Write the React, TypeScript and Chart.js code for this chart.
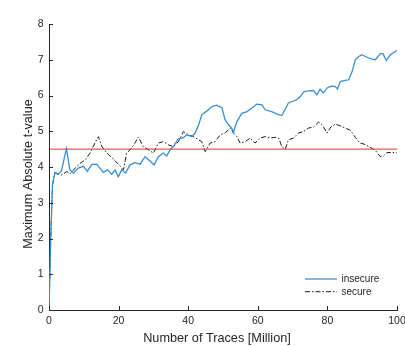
import React, { useEffect, useRef } from "react";
import { Chart, registerables } from "chart.js";

Chart.register(...registerables);

// Maximum absolute t-value against number of traces (millions)
const insecureX = [
  0, 0.5, 1.0, 1.7, 2.7, 3.6, 5.0, 6.0, 7.0, 8.4, 9.9, 11.0, 12.3, 13.7, 15.6, 16.8, 18.0, 19.0, 19.9, 20.9,
  22.0, 23.3, 24.7, 26.2, 27.6, 28.6, 30.2, 31.4, 32.9, 33.8, 34.8, 35.7, 37.2, 38.6, 39.6, 41.0, 42.0, 43.0,
  43.9, 45.4, 46.8, 48.2, 49.7, 50.6, 51.6, 52.5, 53.0, 54.0, 55.4, 56.9, 58.3, 59.7, 61.2, 62.1, 64.0, 65.5,
  66.9, 68.8, 71.2, 72.2, 73.3, 74.6, 76.0, 77.0, 77.9, 78.9, 79.9, 81.3, 82.3, 82.9, 83.7, 85.1, 86.1, 87.1,
  88.0, 89.0, 89.9, 91.4, 92.8, 93.8, 95.2, 96.0, 96.9, 98.1, 100,
];
const insecureY = [
  0, 2.0, 3.5, 3.85, 3.8, 3.9, 4.52, 3.92, 3.83, 3.97, 4.02, 3.88, 4.07, 4.08, 3.85, 3.92, 3.8, 3.92, 3.73, 3.92,
  3.83, 4.06, 4.12, 4.08, 4.29, 4.2, 4.06, 4.29, 4.39, 4.31, 4.48, 4.57, 4.79, 4.82, 4.9, 4.85, 4.95, 5.18,
  5.46, 5.57, 5.69, 5.73, 5.65, 5.32, 5.18, 5.09, 4.97, 5.27, 5.5, 5.55, 5.65, 5.76, 5.74, 5.6, 5.55, 5.48,
  5.44, 5.79, 5.88, 5.97, 6.11, 6.13, 6.14, 6.02, 6.18, 6.07, 6.21, 6.27, 6.25, 6.18, 6.39, 6.42, 6.44, 6.67,
  7.0, 7.09, 7.14, 7.07, 7.02, 7.0, 7.17, 7.17, 6.98, 7.14, 7.26,
];

const secureX = [
  0, 0.5, 1.0, 1.7, 2.5, 3.6, 5.1, 6.2, 7.5, 8.9, 10.4, 11.8, 13.2, 14.2, 15.2, 16.6, 18.5, 19.9, 20.9, 21.4,
  22.3, 23.3, 24.7, 25.7, 27.1, 28.6, 30.0, 31.4, 32.9, 34.3, 35.7, 37.2, 38.6, 40.1, 41.5, 43.0, 43.9, 44.9,
  46.3, 47.7, 49.2, 50.6, 52.1, 53.0, 54.0, 54.9, 56.4, 57.8, 59.2, 60.7, 62.1, 63.6, 65.0, 66.0, 66.9, 67.9,
  68.8, 70.3, 71.7, 73.1, 74.6, 76.0, 77.5, 78.5, 79.9, 81.0, 82.3, 83.7, 85.1, 86.6, 88.0, 89.4, 90.9, 92.3,
  93.8, 95.2, 96.1, 97.1, 98.6, 100,
];
const secureY = [
  0, 2.0, 3.5, 3.83, 3.8, 3.78, 3.87, 3.82, 3.97, 4.1, 4.2, 4.39, 4.67, 4.85, 4.57, 4.39, 4.22, 4.08, 3.97, 3.92,
  4.39, 4.48, 4.67, 4.84, 4.57, 4.48, 4.39, 4.67, 4.71, 4.62, 4.57, 4.71, 4.99, 4.9, 4.85, 4.76, 4.71, 4.43,
  4.67, 4.71, 4.9, 4.95, 5.09, 4.95, 4.85, 4.67, 4.71, 4.81, 4.67, 4.81, 4.85, 4.81, 4.83, 4.81, 4.57, 4.5,
  4.76, 4.81, 4.95, 4.99, 5.09, 5.12, 5.26, 5.18, 4.95, 5.12, 5.2, 5.15, 5.09, 5.03, 4.83, 4.67, 4.63, 4.55,
  4.46, 4.29, 4.31, 4.4, 4.41, 4.39,
];

// Detection threshold
const thresholdX = [0, 100];
const thresholdY = [4.5, 4.5];

const xTicks = [0, 20, 40, 60, 80, 100];
const yTicks = [0, 1, 2, 3, 4, 5, 6, 7, 8];

const xTitle = "Number of Traces [Million]";
const yTitle = "Maximum Absolute t-value";
const seriesNames = ["insecure", "secure"];

const FONT = "'Liberation Sans', Arial, Helvetica, sans-serif";
const INK = "#262626";
const BLUE = "#3a8fd3";
const BLACK = "#1c1c1c";
const RED = "#e8322c";
const DASH = [5, 2, 1.5, 2];

const toPoints = (xs: number[], ys: number[]) => xs.map((x, i) => ({ x, y: ys[i] }));

// Short tick marks pointing into the plot area, plus axis titles
const axisDecor = {
  id: "axisDecor",
  afterDraw(chart: any) {
    const { ctx, chartArea, scales } = chart;
    const xs = scales.x;
    const ys = scales.y;
    ctx.save();
    ctx.strokeStyle = INK;
    ctx.lineWidth = 1;
    ctx.beginPath();
    for (const v of xTicks) {
      const px = Math.round(xs.getPixelForValue(v)) + 0.5;
      ctx.moveTo(px, chartArea.bottom);
      ctx.lineTo(px, chartArea.bottom - 4);
    }
    for (const v of yTicks) {
      const py = Math.round(ys.getPixelForValue(v)) + 0.5;
      ctx.moveTo(chartArea.left, py);
      ctx.lineTo(chartArea.left + 4, py);
    }
    ctx.stroke();

    ctx.fillStyle = INK;
    ctx.font = `12.7px ${FONT}`;
    ctx.textAlign = "center";
    ctx.textBaseline = "alphabetic";
    ctx.fillText(xTitle, (chartArea.left + chartArea.right) / 2 - 6, chartArea.bottom + 31.5);

    ctx.translate(31.7, (chartArea.top + chartArea.bottom) / 2 + 7);
    ctx.rotate(-Math.PI / 2);
    ctx.fillText(yTitle, 0, 0);
    ctx.restore();
  },
};

// Legend in the lower-right corner of the plot area
const cornerLegend = {
  id: "cornerLegend",
  afterDraw(chart: any) {
    const { ctx, chartArea } = chart;
    const x0 = chartArea.right - 92;
    const x1 = chartArea.right - 60;
    const styles = [
      { color: BLUE, width: 1.3, dash: [] as number[] },
      { color: BLACK, width: 1, dash: DASH },
    ];
    ctx.save();
    ctx.font = `10px ${FONT}`;
    ctx.textAlign = "left";
    ctx.textBaseline = "middle";
    seriesNames.forEach((name, i) => {
      const y = chartArea.bottom - 31 + i * 12.7;
      const s = styles[i];
      ctx.strokeStyle = s.color;
      ctx.lineWidth = s.width;
      ctx.setLineDash(s.dash);
      ctx.beginPath();
      ctx.moveTo(x0, y);
      ctx.lineTo(x1, y);
      ctx.stroke();
      ctx.setLineDash([]);
      ctx.fillStyle = INK;
      ctx.fillText(name, x1 + 4.5, y + 0.5);
    });
    ctx.restore();
  },
};

export default function App() {
  const canvasRef = useRef<HTMLCanvasElement | null>(null);

  useEffect(() => {
    if (!canvasRef.current) return;
    const chart = new Chart(canvasRef.current, {
      type: "line",
      data: {
        datasets: [
          {
            label: "threshold",
            data: toPoints(thresholdX, thresholdY),
            borderColor: RED,
            borderWidth: 1,
            pointRadius: 0,
            order: 0,
          },
          {
            label: seriesNames[0],
            data: toPoints(insecureX, insecureY),
            borderColor: BLUE,
            borderWidth: 1.3,
            pointRadius: 0,
            tension: 0,
            order: 1,
          },
          {
            label: seriesNames[1],
            data: toPoints(secureX, secureY),
            borderColor: BLACK,
            borderWidth: 1,
            borderDash: DASH,
            pointRadius: 0,
            tension: 0,
            order: 2,
          },
        ],
      },
      options: {
        animation: false,
        responsive: false,
        devicePixelRatio: 1,
        layout: { padding: { top: 24, right: 8, bottom: 0, left: 0 } },
        plugins: {
          legend: { display: false },
          tooltip: { enabled: false },
        },
        scales: {
          x: {
            type: "linear",
            min: 0,
            max: 100,
            grid: { display: false, drawTicks: false },
            border: { display: true, color: INK, width: 1 },
            afterBuildTicks: (scale: any) => {
              scale.ticks = xTicks.map((value) => ({ value }));
            },
            ticks: {
              color: INK,
              padding: 5,
              maxRotation: 0,
              font: { family: FONT, size: 10.5 },
            },
            afterFit: (scale: any) => {
              scale.height = 36;
              scale.paddingLeft = 0;
              scale.paddingRight = 0;
            },
          },
          y: {
            type: "linear",
            min: 0,
            max: 8,
            grid: { display: false, drawTicks: false },
            border: { display: true, color: INK, width: 1 },
            afterBuildTicks: (scale: any) => {
              scale.ticks = yTicks.map((value) => ({ value }));
            },
            ticks: {
              color: INK,
              padding: 5.5,
              font: { family: FONT, size: 10.5 },
            },
            afterFit: (scale: any) => {
              scale.width = 49;
              scale.paddingTop = 0;
              scale.paddingBottom = 0;
            },
          },
        },
      },
      plugins: [axisDecor, cornerLegend],
    });
    return () => chart.destroy();
  }, []);

  return (
    <div style={{ position: "fixed", left: 0, top: 0, width: 405, height: 346, background: "#fff" }}>
      <canvas ref={canvasRef} width={405} height={346} />
    </div>
  );
}
